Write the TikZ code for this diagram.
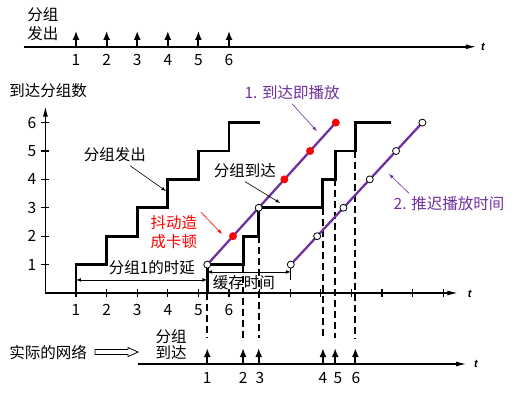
\documentclass[tikz,border=0pt]{standalone}
\usepackage{fontspec}
\setmainfont{Noto Sans CJK SC}
\newfontfamily\tfont{Liberation Sans}
\usetikzlibrary{arrows.meta, positioning}

\begin{document}
\begin{tikzpicture}[>=latex, x=30.6pt, y=28.4pt,
    font=\fontsize{15.5}{18}\selectfont,
    stair/.style={line width=2.9pt},
    axis/.style={line width=1.6pt, -{Latex[length=11pt, width=5pt]}},
    pkt/.style={line width=2pt, -{Latex[length=9pt, width=7pt]}},
    tickline/.style={line width=1.3pt},
    guide/.style={line width=1.8pt, dash pattern=on 7pt off 4pt},
    play/.style={line width=2.3pt, playcol},
    note/.style={line width=0.6pt, ->},
    dim/.style={line width=0.7pt, <->},
    opendot/.style={circle, draw, fill=white, line width=0.8pt, inner sep=0pt, minimum size=7pt},
    latedot/.style={circle, fill=red, inner sep=0pt, minimum size=8pt},
    tlabel/.style={font=\tfont\bfseries\itshape\fontsize{11}{12}\selectfont}]

    % Màu cho hai đường phát
    \definecolor{playcol}{RGB}{112, 48, 160}

    \useasboundingbox (-1.484,-3.556) rectangle (15.412,10.317);

    % 1. Trục gói phát ra (trên cùng)
    \node (sendA) at (-0.08,9.79) {分组};
    \node (sendB) at (-0.08,9.15) {发出};
    \draw[axis] (-0.70,8.67) -- (14.1,8.67);
    \node[tlabel] (ttop) at (14.3,8.66) {t};
    \foreach \i in {1,...,6} {
        \draw[pkt] (\i,8.67) -- (\i,9.23);
        \node (s\i) at (\i,8.20) {\i};
    }

    % 2. Hệ trục giữa
    \node (ylbl) at (0.085,7.11) {到达分组数};
    \draw[axis] (0,0) -- (0,6.6);
    \draw[axis] (0,0) -- (13.5,0);
    \node[tlabel] (tmid) at (13.87,-0.03) {t};
    \foreach \i in {1,...,13} \draw[tickline] (\i,-0.14) -- (\i,0.14);
    \foreach \i in {1,...,6} {
        \draw[tickline] (-0.13,\i) -- (0.13,\i);
        \node (y\i) at (-0.44,\i) {\i};
        \node (x\i) at (\i,-0.6) {\i};
    }

    % 3. Bậc thang gửi và nhận
    \draw[stair] (1,0) -- (1,1) -- (2,1) -- (2,2) -- (3,2) -- (3,3) -- (4,3)
        -- (4,4) -- (5,4) -- (5,5) -- (6,5) -- (6,6) -- (7,6);
    \draw[stair] (5.29,0) -- (5.29,1) -- (6.46,1) -- (6.46,2) -- (6.97,2)
        -- (6.97,3) -- (9.07,3) -- (9.07,4) -- (9.47,4) -- (9.47,5)
        -- (10.13,5) -- (10.13,6) -- (11.3,6);

    % 4. Đường gióng xuống trục dưới
    \foreach \t/\l in {5.29/0, 6.46/1, 6.97/2, 9.07/3, 9.47/4, 10.13/5}
        \draw[guide] (\t,\l) -- (\t,-1.6);

    % 5. Trục gói đến thực tế
    \node (net) at (0.085,-2.08) {实际的网络};
    \draw[line width=0.8pt] (1.62,-1.992) -- (2.70,-1.992) -- (2.70,-1.92)
        -- (3.03,-2.08) -- (2.70,-2.24) -- (2.70,-2.168) -- (1.62,-2.168) -- cycle;
    \node (recvA) at (4.11,-1.55) {分组};
    \node (recvB) at (4.11,-2.11) {到达};
    \draw[axis] (3.03,-2.5) -- (13.78,-2.5);
    \node[tlabel] (tbot) at (14.07,-2.5) {t};
    \foreach \t/\lx/\n in {5.29/5.29/1, 6.46/6.46/2, 6.97/7.01/3,
                           9.07/9.07/4, 9.47/9.56/5, 10.13/10.15/6} {
        \draw[pkt] (\t,-2.5) -- (\t,-1.94);
        \node (r\n) at (\lx,-2.99) {\n};
    }

    % 6. Hai cách phát
    \draw[play] (5.29,1) -- (9.49,6);
    \draw[play] (8.02,1) -- (12.32,6);
    \node[opendot] (pa1) at (5.29,1) {};
    \node[opendot] (pa3) at (6.97,3) {};
    \foreach \k in {2,4,5,6}
        \node[latedot] (pa\k) at ({5.29+0.84*(\k-1)},\k) {};
    \foreach \k in {1,...,6}
        \node[opendot] (pb\k) at ({8.02+0.86*(\k-1)},\k) {};

    % 7. Mũi tên kích thước
    \coordinate (d1a) at (1,0.46);
    \coordinate (d1b) at (5.29,0.46);
    \draw[dim] (d1a) -- (d1b);
    \node (delay) at (3.48,0.88) {分组1的时延};
    \coordinate (d2a) at (5.29,0.74);
    \coordinate (d2b) at (8.02,0.74);
    \draw[dim] (d2a) -- (d2b);
    \draw[line width=0.7pt] (8.02,0.88) -- (8.02,0.46);
    \node (buf) at (6.49,0.35) {缓存时间};

    % 8. Chú thích
    \node (sentlbl) at (2.27,4.86) {分组发出};
    \coordinate (sentpt) at (3.94,3.59);
    \draw[note] (sentlbl) -- (sentpt);

    \node (arrlbl) at (6.52,4.30) {分组到达};
    \coordinate (arrpt) at (7.67,3.17);
    \draw[note] (arrlbl.south) -- (arrpt);

    \node[red, align=center, font=\fontsize{15.5}{18.5}\selectfont] (jitter) at (4.2,2.15) {抖动造\\成卡顿};
    \coordinate (jitpt) at (5.77,2.08);
    \draw[note, red] (jitter.north east) -- (jitpt);

    \node[playcol] (play1lbl) at (8.06,7.04) {1. 到达即播放};
    \coordinate (play1pt) at (8.87,5.70);
    \draw[note, playcol] (play1lbl.south) -- (play1pt);

    \node[playcol] (play2lbl) at (13.19,3.13) {2. 推迟播放时间};
    \coordinate (play2pt) at (11.23,4.19);
    \draw[note, playcol] (play2lbl.165) -- (play2pt);
\end{tikzpicture}
\end{document}
